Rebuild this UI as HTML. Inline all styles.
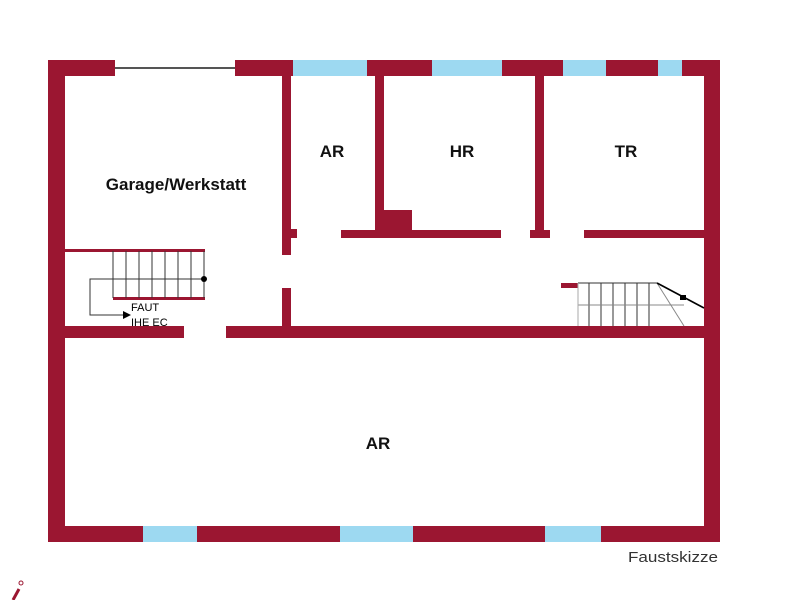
<!DOCTYPE html>
<html><head><meta charset="utf-8"><style>
body{margin:0;background:#fff;}
svg{display:block;}
text{font-family:"Liberation Sans",sans-serif;}
</style></head><body>
<svg width="800" height="600" viewBox="0 0 800 600" xmlns="http://www.w3.org/2000/svg">
<g fill="#9b1631">
<rect x="48" y="60" width="17" height="482"/>
<rect x="704" y="60" width="16" height="482"/>
<rect x="48" y="60" width="67" height="16"/>
<rect x="235" y="60" width="58" height="16"/>
<rect x="367" y="60" width="65" height="16"/>
<rect x="502" y="60" width="61" height="16"/>
<rect x="606" y="60" width="52" height="16"/>
<rect x="682" y="60" width="38" height="16"/>
<rect x="48" y="526" width="95" height="16"/>
<rect x="197" y="526" width="143" height="16"/>
<rect x="413" y="526" width="132" height="16"/>
<rect x="601" y="526" width="119" height="16"/>
<rect x="282" y="76" width="9" height="179"/>
<rect x="291" y="229" width="6" height="9"/>
<rect x="282" y="288" width="9" height="40"/>
<rect x="375" y="76" width="9" height="162"/>
<rect x="384" y="210" width="28" height="28"/>
<rect x="341" y="230" width="160" height="8"/>
<rect x="535" y="76" width="9" height="162"/>
<rect x="530" y="230" width="20" height="8"/>
<rect x="584" y="230" width="120" height="8"/>
<rect x="65" y="326" width="119" height="12"/>
<rect x="226" y="326" width="478" height="12"/>
<rect x="561" y="283" width="17" height="5"/>
<rect x="65" y="249" width="140" height="3"/>
<rect x="113" y="297" width="92" height="3"/>
</g>
<g fill="#9dd9f1">
<rect x="293" y="60" width="74" height="16"/>
<rect x="432" y="60" width="70" height="16"/>
<rect x="563" y="60" width="43" height="16"/>
<rect x="658" y="60" width="24" height="16"/>
<rect x="143" y="526" width="54" height="16"/>
<rect x="340" y="526" width="73" height="16"/>
<rect x="545" y="526" width="56" height="16"/>
</g>
<line x1="115" y1="68" x2="235" y2="68" stroke="#555" stroke-width="2"/>
<g stroke="#333" stroke-width="1">
<line x1="113" y1="251" x2="113" y2="298"/><line x1="126" y1="251" x2="126" y2="298"/>
<line x1="139" y1="251" x2="139" y2="298"/><line x1="152" y1="251" x2="152" y2="298"/>
<line x1="165" y1="251" x2="165" y2="298"/><line x1="178" y1="251" x2="178" y2="298"/>
<line x1="191" y1="251" x2="191" y2="298"/><line x1="204" y1="251" x2="204" y2="298"/>
<polyline points="204,279 90,279 90,315 125,315" fill="none"/>
</g>
<polygon points="123,311 131,315 123,319" fill="#000"/>
<circle cx="204" cy="279" r="3" fill="#000"/>
<text x="131" y="311" font-size="11" fill="#000">FAUT</text>
<text x="131" y="326" font-size="11" fill="#000">IHE EC</text>
<g stroke="#333" stroke-width="1">
<line x1="578" y1="283" x2="657" y2="283"/>
<line x1="589" y1="283" x2="589" y2="326"/><line x1="601" y1="283" x2="601" y2="326"/>
<line x1="613" y1="283" x2="613" y2="326"/><line x1="625" y1="283" x2="625" y2="326"/>
<line x1="637" y1="283" x2="637" y2="326"/><line x1="649" y1="283" x2="649" y2="326"/>
<line x1="578" y1="305" x2="684" y2="305" stroke="#888"/>
<line x1="657" y1="283" x2="684" y2="326" stroke="#888"/>
<line x1="578" y1="283" x2="578" y2="326" stroke="#aaa"/>
<line x1="657" y1="283" x2="704" y2="308" stroke-width="1.6" stroke="#000"/>
</g>
<rect x="680" y="295" width="6" height="5" fill="#000"/>
<g font-weight="bold" font-size="17" fill="#111" text-anchor="middle">
<text x="176" y="190">Garage/Werkstatt</text>
<text x="332" y="157">AR</text>
<text x="462" y="157">HR</text>
<text x="626" y="157">TR</text>
<text x="378" y="449">AR</text>
</g>
<text x="718" y="562" font-size="15" fill="#333" text-anchor="end" textLength="90" lengthAdjust="spacingAndGlyphs">Faustskizze</text>
<line x1="13" y1="600" x2="19" y2="589" stroke="#9b1631" stroke-width="3"/>
<circle cx="21" cy="583" r="2" fill="none" stroke="#9b1631" stroke-width="1"/>
</svg>
</body></html>
